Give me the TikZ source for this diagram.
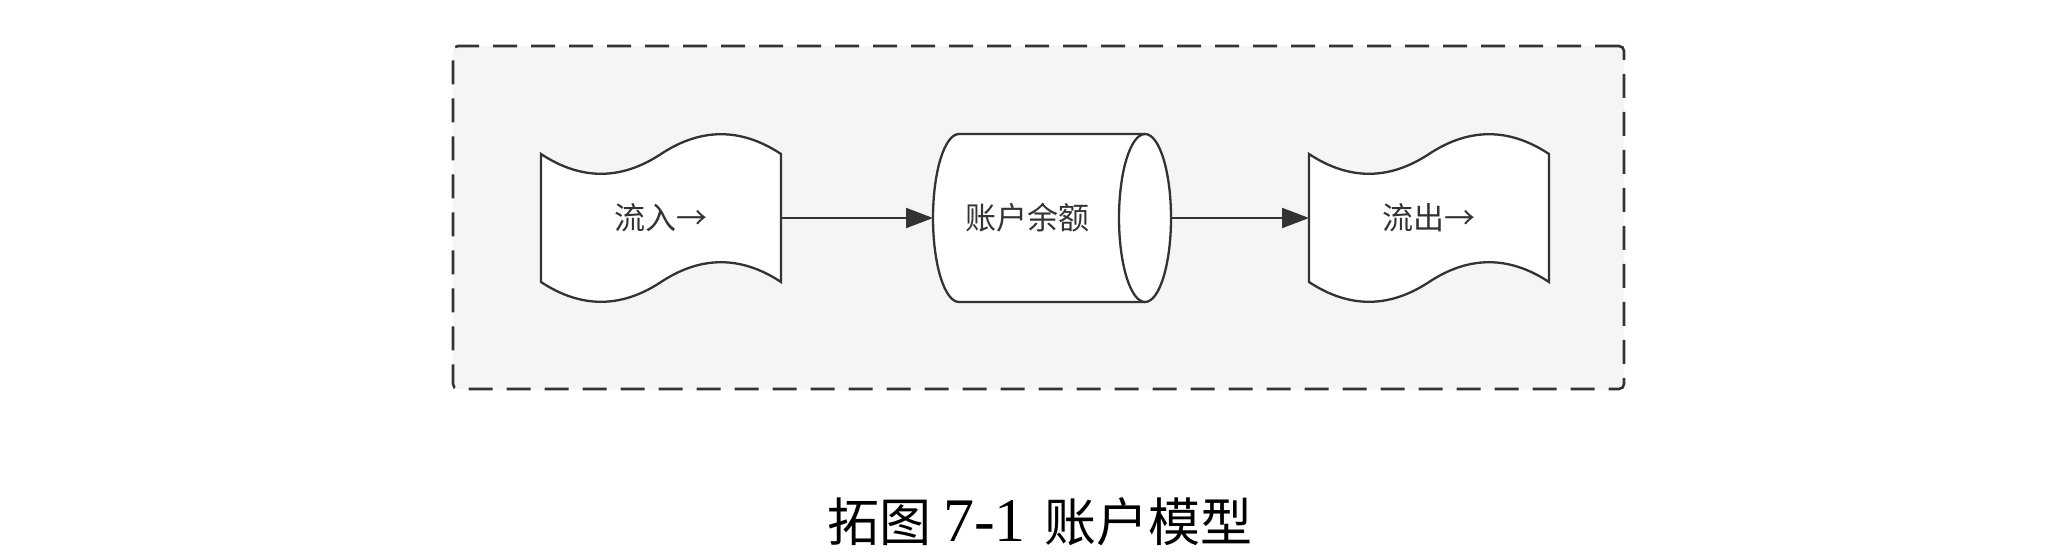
\documentclass[tikz,border=0pt]{standalone}
\usepackage{fontspec}
\newfontfamily\cjk{Noto Sans CJK SC}
\newfontfamily\capserif{Liberation Serif}
\usetikzlibrary{arrows.meta}
\definecolor{ink}{HTML}{333333}
\definecolor{panelfill}{HTML}{F5F5F5}
\newcommand\tapeshape[1]{%
  \draw[shapeline,shift={(#1)}] (-120,-64) .. controls (-80,-37.6) and (-40,-37.6) .. (0,-64)
    .. controls (40,-90.4) and (80,-90.4) .. (120,-64) -- (120,64)
    .. controls (80,37.6) and (40,37.6) .. (0,64)
    .. controls (-40,90.4) and (-80,90.4) .. (-120,64) -- cycle;}
\begin{document}
\begin{tikzpicture}[x=0.5pt,y=-0.5pt,
  shapeline/.style={draw=ink,line width=1.15pt,fill=white},
  lbl/.style={font=\cjk\fontsize{15.5pt}{18pt}\selectfont,text=ink,outer sep=0pt,inner sep=0pt},
  conn/.style={draw=ink,line width=1.1pt,-{Triangle[length=13.5pt,width=10pt]}},
  panelbox/.style={draw=ink,fill=panelfill,line width=1.3pt,dash pattern=on 12pt off 7pt,
    rounded corners=2.5pt,minimum width=585.5pt,minimum height=171.5pt,inner sep=0pt}]
\useasboundingbox (0,0) rectangle (2054,558);
\fill[white] (0,0) rectangle (2054,558);
\node[panelbox] (panel) at (1038.5,217.5) {};
% shapes
\coordinate (inc) at (661,218);
\coordinate (outc) at (1429,218);
\coordinate (balc) at (1052,218);
\tapeshape{inc}
\tapeshape{outc}
\begin{scope}[shift={(balc)}]
  \draw[shapeline] (93,-84) .. controls (107.36,-84) and (119,-46.4) .. (119,0)
    .. controls (119,46.4) and (107.36,84) .. (93,84) -- (-93,84)
    .. controls (-107.36,84) and (-119,46.4) .. (-119,0)
    .. controls (-119,-46.4) and (-107.36,-84) .. (-93,-84) -- cycle;
  \draw[draw=ink,line width=1.15pt] (93,-84) .. controls (78.64,-84) and (67,-46.4) .. (67,0)
    .. controls (67,46.4) and (78.64,84) .. (93,84);
\end{scope}
% nodes
\node[lbl,minimum width=120pt,minimum height=86pt] (in) at (inc) {\raisebox{-1.5pt}{流入→}};
\node[lbl,minimum width=120pt,minimum height=86pt] (out) at (outc) {\raisebox{-1.5pt}{流出→}};
\node[lbl,minimum width=119pt,minimum height=84pt] (bal) at (balc) {\raisebox{-1.5pt}{账户余额}\hspace*{25pt}};
% connectors
\draw[conn] (in.east) -- (bal.west);
\draw[conn] (bal.east) -- (out.west);
% caption
\node[font=\cjk\fontsize{26pt}{30pt}\selectfont,text=black,anchor=base,inner sep=0pt] (cap) at (1040,541)
  {拓图\hspace{6pt}{\capserif\fontsize{31pt}{31pt}\selectfont 7-1}\hspace{9.5pt}账户模型};
\end{tikzpicture}
\end{document}
